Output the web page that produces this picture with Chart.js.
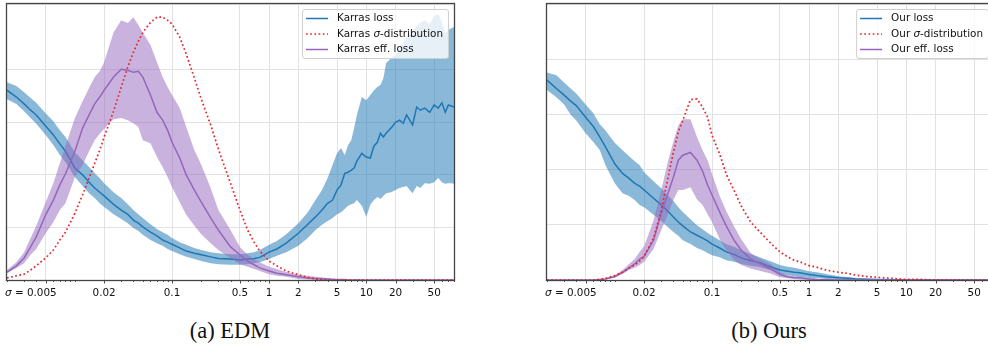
<!DOCTYPE html>
<html>
<head>
<meta charset="utf-8">
<script src="https://cdn.jsdelivr.net/npm/chart.js@4.4.1/dist/chart.umd.min.js"></script>
<style>
  body { margin: 0; width: 988px; height: 344px; overflow: hidden; background: #fff; position: relative; }
  .panel { position: absolute; top: 0; width: 470px; height: 310px; }
  .cap { position: absolute; top: 320px; width: 200px; text-align: center; font-family: "Liberation Serif", serif; font-size: 22.5px; line-height: 1; color: #111; }
</style>
</head>
<body>
<div class="panel" style="left:0"><canvas id="edm"></canvas></div>
<div class="panel" style="left:540px"><canvas id="ours"></canvas></div>
<div class="cap" style="left:130px">(a) EDM</div>
<div class="cap" style="left:669px">(b) Ours</div>
<script>
// sigma axis ticks
const majorTicks = [0.005, 0.02, 0.1, 0.5, 1, 2, 5, 10, 20, 50];
const tickLabels = ['σ = 0.005', '0.02', '0.1', '0.5', '1', '2', '5', '10', '20', '50'];

// (a) EDM / Karras
const sigmaEdm = [0.002, 0.0025, 0.003, 0.0035, 0.004, 0.005, 0.006, 0.007, 0.008,
  0.01, 0.012, 0.014, 0.016, 0.018,
  0.02, 0.025, 0.03, 0.035, 0.04, 0.045, 0.05, 0.06, 0.07, 0.08, 0.09,
  0.1, 0.12, 0.14, 0.17, 0.2, 0.25, 0.3, 0.4, 0.5, 0.6, 0.7, 0.8,
  1, 1.2, 1.5, 2, 2.5,
  3, 3.5, 4, 4.5, 5, 5.5, 6, 6.5, 7, 7.5, 8,
  9, 10, 11, 12, 13, 14, 15, 16,
  18, 20, 22, 24, 26, 28, 30,
  33, 36, 40, 45, 50, 55, 60, 65, 70, 75, 80];
const karrasLoss = [3.61, 3.48, 3.35, 3.23, 3.14, 2.93, 2.76, 2.59, 2.45,
  2.13, 2.00, 1.86, 1.75, 1.67,
  1.60, 1.44, 1.33, 1.25, 1.14, 1.08, 1.01, 0.91, 0.84, 0.76, 0.72,
  0.68, 0.61, 0.55, 0.51, 0.48, 0.44, 0.41, 0.40, 0.38, 0.40, 0.41, 0.43,
  0.53, 0.59, 0.70, 0.89, 1.06,
  1.20, 1.33, 1.46, 1.52, 1.71, 1.81, 2.03, 2.05, 2.09, 2.13, 2.26,
  2.41, 2.34, 2.32, 2.55, 2.62, 2.79, 2.72, 2.79,
  2.89, 3.00, 3.04, 2.98, 3.14, 3.04, 2.95,
  3.29, 3.23, 3.27, 3.19, 3.33, 3.27, 3.37, 3.19, 3.33, 3.31, 3.29];
const karrasLossHi = [3.76, 3.69, 3.57, 3.46, 3.37, 3.17, 3.02, 2.85, 2.72,
  2.43, 2.28, 2.15, 2.03, 1.94,
  1.84, 1.67, 1.56, 1.44, 1.33, 1.25, 1.18, 1.06, 0.97, 0.91, 0.86,
  0.80, 0.72, 0.67, 0.61, 0.57, 0.53, 0.51, 0.49, 0.49, 0.51, 0.53, 0.57,
  0.67, 0.74, 0.87, 1.08, 1.29,
  1.52, 1.71, 1.94, 2.19, 2.41, 2.51, 2.38, 2.57, 2.66, 2.89, 3.14,
  3.48, 3.42, 3.52, 3.61, 3.67, 3.71, 3.84, 4.13,
  4.22, 4.28, 4.41, 4.52, 4.62, 4.68, 4.71,
  4.83, 4.90, 4.94, 4.87, 5.02, 5.06, 4.90, 4.70, 4.75, 4.79, 4.81];
const karrasLossLo = [3.44, 3.35, 3.21, 3.08, 2.97, 2.76, 2.57, 2.38, 2.24,
  1.96, 1.79, 1.65, 1.56, 1.46,
  1.39, 1.25, 1.16, 1.08, 0.99, 0.93, 0.86, 0.76, 0.70, 0.65, 0.59,
  0.55, 0.49, 0.44, 0.40, 0.36, 0.32, 0.30, 0.29, 0.29, 0.30, 0.32, 0.34,
  0.40, 0.46, 0.53, 0.65, 0.80,
  0.95, 1.05, 1.12, 1.18, 1.25, 1.29, 1.35, 1.41, 1.44, 1.46, 1.52,
  1.41, 1.20, 1.43, 1.52, 1.58, 1.54, 1.60, 1.65,
  1.67, 1.71, 1.75, 1.77, 1.79, 1.71, 1.65,
  1.79, 1.75, 1.84, 1.83, 1.86, 1.94, 1.86, 1.83, 1.84, 1.84, 1.83];
const karrasSigma = [0.04, 0.08, 0.11, 0.19, 0.27, 0.42, 0.57, 0.76, 0.91,
  1.27, 1.62, 1.94, 2.22, 2.47,
  2.72, 3.21, 3.67, 4.05, 4.33, 4.54, 4.71, 4.90, 5.00, 5.00, 4.94,
  4.87, 4.62, 4.30, 3.84, 3.44, 2.95, 2.49, 1.84, 1.33, 0.95, 0.72, 0.55,
  0.36, 0.27, 0.17, 0.10, 0.05,
  0.02, 0.01, 0, 0, 0, 0, 0, 0, 0, 0, 0,
  0, 0, 0, 0, 0, 0, 0, 0,
  0, 0, 0, 0, 0, 0, 0,
  0, 0, 0, 0, 0, 0, 0, 0, 0, 0, 0];
const karrasEff = [0.15, 0.27, 0.42, 0.63, 0.82, 1.24, 1.52, 1.81, 2.02,
  2.45, 2.89, 3.14, 3.35, 3.48,
  3.61, 3.86, 4.01, 3.99, 3.95, 3.97, 3.86, 3.52, 3.19, 3.04, 2.85,
  2.62, 2.32, 2.00, 1.71, 1.48, 1.18, 0.95, 0.63, 0.48, 0.36, 0.29, 0.23,
  0.17, 0.13, 0.10, 0.06, 0.04,
  0.03, 0.02, 0.02, 0.01, 0.01, 0.01, 0.01, 0, 0, 0, 0,
  0, 0, 0, 0, 0, 0, 0, 0,
  0, 0, 0, 0, 0, 0, 0,
  0, 0, 0, 0, 0, 0, 0, 0, 0, 0, 0];
const karrasEffHi = [0.19, 0.34, 0.53, 0.80, 1.03, 1.48, 1.84, 2.22, 2.55,
  3.08, 3.40, 3.65, 3.86, 3.97,
  4.14, 4.71, 4.94, 4.89, 5.00, 4.85, 4.71, 4.47, 4.14, 3.86, 3.67,
  3.52, 3.27, 2.91, 2.47, 2.19, 1.75, 1.33, 0.95, 0.63, 0.48, 0.40, 0.34,
  0.25, 0.21, 0.15, 0.10, 0.08,
  0.06, 0.05, 0.04, 0.03, 0.02, 0.02, 0.01, 0.01, 0.01, 0.01, 0.01,
  0, 0, 0, 0, 0, 0, 0, 0,
  0, 0, 0, 0, 0, 0, 0,
  0, 0, 0, 0, 0, 0, 0, 0, 0, 0, 0];
const karrasEffLo = [0.13, 0.23, 0.32, 0.48, 0.59, 0.89, 1.10, 1.33, 1.46,
  1.96, 2.19, 2.45, 2.66, 2.78,
  2.87, 3.06, 3.08, 3.04, 2.98, 2.91, 2.66, 2.60, 2.34, 2.15, 1.96,
  1.77, 1.48, 1.24, 1.03, 0.87, 0.70, 0.57, 0.42, 0.30, 0.25, 0.21, 0.17,
  0.11, 0.08, 0.06, 0.02, 0.01,
  0, 0, 0, 0, 0, 0, 0, 0, 0, 0, 0,
  0, 0, 0, 0, 0, 0, 0, 0,
  0, 0, 0, 0, 0, 0, 0,
  0, 0, 0, 0, 0, 0, 0, 0, 0, 0, 0];

// (b) Ours
const sigmaOurs = [0.002, 0.0025, 0.003, 0.0035, 0.004, 0.005, 0.006, 0.007, 0.008,
  0.01, 0.012, 0.014, 0.016, 0.018,
  0.02, 0.025, 0.03, 0.035, 0.04, 0.045, 0.05, 0.06, 0.07, 0.08, 0.09,
  0.1, 0.12, 0.14, 0.17, 0.2, 0.25, 0.3, 0.4, 0.5, 0.6, 0.7, 0.8,
  1, 1.2, 1.5, 2, 2.5,
  3, 4, 5, 7, 10, 15, 20, 30, 50, 80];
const ourLoss = [3.62, 3.47, 3.35, 3.24, 3.16, 2.95, 2.78, 2.59, 2.41,
  2.10, 1.93, 1.84, 1.75, 1.70,
  1.63, 1.48, 1.36, 1.25, 1.14, 1.05, 0.98, 0.87, 0.81, 0.76, 0.71,
  0.65, 0.58, 0.51, 0.46, 0.40, 0.35, 0.32, 0.24, 0.18, 0.16, 0.14, 0.13,
  0.10, 0.08, 0.06, 0.04, 0.03,
  0.02, 0.01, 0.01, 0.005, 0, 0, 0, 0, 0, 0];
const ourLossHi = [3.76, 3.71, 3.58, 3.47, 3.38, 3.18, 3.02, 2.82, 2.71,
  2.48, 2.35, 2.24, 2.15, 2.08,
  1.95, 1.79, 1.66, 1.54, 1.43, 1.32, 1.23, 1.10, 0.99, 0.92, 0.85,
  0.80, 0.72, 0.65, 0.60, 0.54, 0.47, 0.42, 0.34, 0.27, 0.24, 0.22, 0.20,
  0.16, 0.14, 0.11, 0.07, 0.05,
  0.04, 0.03, 0.02, 0.01, 0.01, 0.005, 0.005, 0, 0, 0];
const ourLossLo = [3.44, 3.31, 3.18, 3.00, 2.89, 2.66, 2.50, 2.35, 2.08,
  1.75, 1.57, 1.52, 1.45, 1.36,
  1.32, 1.18, 1.07, 0.96, 0.87, 0.80, 0.72, 0.65, 0.58, 0.54, 0.49,
  0.45, 0.41, 0.36, 0.33, 0.29, 0.26, 0.24, 0.18, 0.11, 0.09, 0.07, 0.05,
  0.04, 0.03, 0.02, 0.01, 0,
  0, 0, 0, 0, 0, 0, 0, 0, 0, 0];
const ourSigma = [0, 0, 0, 0, 0, 0, 0, 0.01, 0.03,
  0.08, 0.14, 0.22, 0.27, 0.34,
  0.43, 0.76, 1.25, 1.83, 2.31, 2.69, 2.89, 3.27, 3.28, 3.13, 2.95,
  2.62, 2.28, 1.92, 1.61, 1.34, 1.05, 0.90, 0.67, 0.51, 0.42, 0.36, 0.33,
  0.26, 0.23, 0.18, 0.14, 0.12,
  0.09, 0.06, 0.05, 0.03, 0.01, 0.01, 0, 0, 0, 0];
const ourEff = [0, 0, 0, 0, 0, 0, 0, 0.01, 0.02,
  0.06, 0.14, 0.22, 0.29, 0.38,
  0.43, 0.72, 1.21, 1.56, 1.86, 2.17, 2.26, 2.31, 2.17, 1.97, 1.72,
  1.54, 1.23, 0.98, 0.71, 0.54, 0.38, 0.31, 0.20, 0.10, 0.06, 0.04, 0.04,
  0.02, 0.01, 0.005, 0, 0,
  0, 0, 0, 0, 0, 0, 0, 0, 0, 0];
const ourEffHi = [0, 0, 0, 0, 0, 0, 0, 0.02, 0.03,
  0.09, 0.18, 0.29, 0.38, 0.51,
  0.61, 1.08, 1.63, 2.13, 2.51, 2.80, 2.91, 2.91, 2.59, 2.35, 2.17,
  1.92, 1.52, 1.25, 0.96, 0.74, 0.49, 0.40, 0.29, 0.14, 0.09, 0.07, 0.05,
  0.04, 0.02, 0.01, 0, 0,
  0, 0, 0, 0, 0, 0, 0, 0, 0, 0];
const ourEffLo = [0, 0, 0, 0, 0, 0, 0, 0, 0.01,
  0.05, 0.11, 0.18, 0.22, 0.27,
  0.33, 0.56, 0.90, 1.18, 1.45, 1.63, 1.63, 1.68, 1.46, 1.36, 1.19,
  1.05, 0.74, 0.54, 0.36, 0.27, 0.21, 0.17, 0.12, 0.05, 0.03, 0.02, 0.01,
  0, 0, 0, 0, 0,
  0, 0, 0, 0, 0, 0, 0, 0, 0, 0];

const edmLabels = ['Karras loss', 'Karras σ-distribution', 'Karras eff. loss'];
const oursLabels = ['Our loss', 'Our σ-distribution', 'Our eff. loss'];

const BLUE = '#1f77b4';
const RED = '#e5262b';
const PURPLE = '#9467bd';
const FONT = '"DejaVu Sans"';
const DOTS = [1.7, 2.5];

// draw text, with every σ in oblique like matplotlib mathtext
function drawRich(ctx, text, x, y, size) {
  const parts = text.split(/(σ)/).filter(p => p.length);
  for (const p of parts) {
    ctx.font = (p === 'σ' ? 'oblique ' : '') + size + 'px ' + FONT;
    ctx.fillText(p, x, y);
    x += ctx.measureText(p).width;
  }
}
function richWidth(ctx, text, size) {
  let w = 0;
  for (const p of text.split(/(σ)/).filter(p => p.length)) {
    ctx.font = (p === 'σ' ? 'oblique ' : '') + size + 'px ' + FONT;
    w += ctx.measureText(p).width;
  }
  return w;
}

const minorTicks = [];
[0.001, 0.01, 0.1, 1, 10].forEach(d => {
  for (let k = 1; k <= 9; k++) {
    const v = +(k * d).toPrecision(3);
    if (v >= 0.002 && v <= 80 && !majorTicks.includes(v)) minorTicks.push(v);
  }
});

const decor = {
  id: 'decor',
  afterDraw(chart, args, opts) {
    const { ctx, chartArea: a } = chart;
    const x = chart.scales.x;
    ctx.save();
    // tick marks
    ctx.strokeStyle = '#222';
    ctx.lineWidth = 0.8;
    ctx.beginPath();
    majorTicks.forEach(v => {
      const px = Math.round(x.getPixelForValue(v)) + 0.5;
      ctx.moveTo(px, a.bottom); ctx.lineTo(px, a.bottom + 3.5);
    });
    minorTicks.forEach(v => {
      const px = Math.round(x.getPixelForValue(v)) + 0.5;
      ctx.moveTo(px, a.bottom); ctx.lineTo(px, a.bottom + 2);
    });
    ctx.stroke();
    // tick labels
    ctx.fillStyle = '#111';
    ctx.textBaseline = 'alphabetic';
    ctx.textAlign = 'left';
    majorTicks.forEach((v, i) => {
      const px = x.getPixelForValue(v);
      const w = richWidth(ctx, tickLabels[i], 10.4);
      const left = i === 0 ? px + 11 - w : px - w / 2;
      drawRich(ctx, tickLabels[i], left, a.bottom + 16, 10.4);
    });
    // frame
    ctx.strokeStyle = '#444';
    ctx.lineWidth = 1.3;
    ctx.strokeRect(a.left - 0.5, a.top - 0.5, a.right - a.left + 1, a.bottom - a.top + 1);
    // legend
    const names = opts.names;
    let tw = 0;
    names.forEach(n => { tw = Math.max(tw, richWidth(ctx, n, 10.4)); });
    const bw = tw + 40, bh = 49;
    const bx = a.right - 6 - bw, by = a.top + 5;
    ctx.beginPath();
    ctx.roundRect(bx + 0.5, by + 0.5, bw, bh, 2.5);
    ctx.fillStyle = 'rgba(255,255,255,0.8)';
    ctx.fill();
    ctx.strokeStyle = '#cfcfcf';
    ctx.lineWidth = 1;
    ctx.stroke();
    const styles = [[BLUE, []], [RED, DOTS], [PURPLE, []]];
    names.forEach((n, i) => {
      const cy = by + 9.5 + i * 15.5;
      ctx.strokeStyle = styles[i][0];
      ctx.lineWidth = i === 1 ? 1.7 : 1.5;
      ctx.setLineDash(styles[i][1]);
      ctx.beginPath();
      ctx.moveTo(bx + 4, cy); ctx.lineTo(bx + 26, cy);
      ctx.stroke();
      ctx.setLineDash([]);
      ctx.fillStyle = '#111';
      ctx.textBaseline = 'middle';
      drawRich(ctx, n, bx + 35, cy, 10.4);
    });
    ctx.restore();
  }
};

function pts(sigma, vals) {
  return sigma.map((s, i) => ({ x: s, y: vals[i] }));
}

function makeChart(id, sigma, loss, lossLo, lossHi, dist, eff, effLo, effHi, yMax, names) {
  const band = { pointRadius: 0, borderWidth: 0, tension: 0 };
  new Chart(document.getElementById(id), {
    type: 'line',
    data: {
      datasets: [
        { ...band, data: pts(sigma, lossHi), fill: '+1', backgroundColor: 'rgba(31,119,180,0.52)', order: 6 },
        { ...band, data: pts(sigma, lossLo), fill: false, order: 6 },
        { data: pts(sigma, loss), borderColor: BLUE, borderWidth: 1.5, pointRadius: 0, fill: false, order: 5 },
        { ...band, data: pts(sigma, effHi), fill: '+1', backgroundColor: 'rgba(148,103,189,0.5)', order: 4 },
        { ...band, data: pts(sigma, effLo), fill: false, order: 4 },
        { data: pts(sigma, eff), borderColor: PURPLE, borderWidth: 1.5, pointRadius: 0, fill: false, order: 3 },
        { data: pts(sigma, dist), borderColor: RED, borderWidth: 1.7, borderDash: DOTS, pointRadius: 0, fill: false, order: 1 }
      ]
    },
    options: {
      responsive: true,
      maintainAspectRatio: false,
      animation: false,
      devicePixelRatio: 1,
      layout: { padding: { left: 7, top: 4, right: 16, bottom: 30 } },
      scales: {
        x: {
          type: 'logarithmic',
          min: 0.002,
          max: 80,
          afterBuildTicks: axis => { axis.ticks = majorTicks.map(v => ({ value: v })); },
          ticks: { display: false },
          grid: { color: '#e2e2e2', lineWidth: 1, drawTicks: false },
          border: { display: false }
        },
        y: {
          type: 'linear',
          min: 0,
          max: yMax,
          ticks: { display: false, stepSize: 1 },
          grid: { color: '#e2e2e2', lineWidth: 1, drawTicks: false },
          border: { display: false }
        }
      },
      plugins: {
        legend: { display: false },
        tooltip: { enabled: false },
        decor: { names: names }
      }
    },
    plugins: [decor]
  });
}

makeChart('edm', sigmaEdm, karrasLoss, karrasLossLo, karrasLossHi, karrasSigma,
  karrasEff, karrasEffLo, karrasEffHi, 5.25, edmLabels);
makeChart('ours', sigmaOurs, ourLoss, ourLossLo, ourLossHi, ourSigma,
  ourEff, ourEffLo, ourEffHi, 5.0, oursLabels);
</script>
</body>
</html>
